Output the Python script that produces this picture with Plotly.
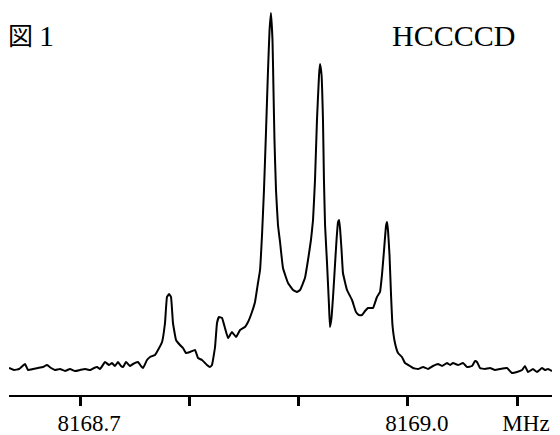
import plotly.graph_objects as go

# Frequency offset from 8168.7 MHz (kHz) and intensity (arbitrary units)
freq_offset_khz = [
    -65.0, -60.4, -55.8, -50.3, -47.6, -43.0, -38.4, -33.9, -30.2, -26.5,
    -22.9, -18.3, -13.7, -9.2, -4.6, 0.0, 4.6, 9.2, 12.8, 15.6,
    18.3, 22.9, 26.5, 29.3, 32.0, 34.8, 37.5, 39.4, 42.1, 45.8,
    48.5, 53.1, 55.8, 57.7, 61.3, 64.1, 68.6, 71.4, 75.1, 77.8,
    79.6, 81.5, 83.3, 85.1, 87.9, 91.5, 94.3, 97.0, 100.7, 105.3,
    108.0, 111.7, 116.2, 119.0, 120.8, 123.6, 125.4, 127.2, 130.0, 132.7,
    135.5, 139.1, 142.8, 146.5, 151.0, 153.8, 157.4, 160.2, 162.9, 164.8,
    166.6, 168.4, 170.3, 172.1, 173.5, 174.8, 176.2, 177.1, 178.0, 179.4,
    181.2, 183.1, 185.8, 190.4, 195.0, 198.6, 201.4, 205.9, 208.7, 211.4,
    213.3, 215.1, 216.9, 218.8, 219.7, 221.1, 222.4, 223.3, 224.3, 226.1,
    227.9, 228.8, 230.2, 231.6, 233.4, 234.8, 236.2, 237.1, 238.0, 239.4,
    240.7, 244.4, 249.0, 252.6, 255.4, 258.1, 260.9, 263.6, 268.2, 271.8,
    274.6, 276.4, 278.3, 280.1, 281.0, 281.9, 283.3, 284.7, 286.0, 288.3,
    291.1, 294.7, 297.5, 302.1, 304.8, 309.4, 314.0, 318.5, 323.1, 327.7,
    331.4, 335.9, 338.7, 341.4, 346.0, 350.6, 354.2, 358.8, 361.6, 363.4,
    366.1, 370.7, 375.3, 379.9, 384.4, 390.8, 395.4, 400.0, 404.6, 407.3,
    410.1, 414.6, 418.3, 422.9, 425.6, 428.4, 432.0,
]
intensity = [
    2, 0, 1, 6, 0, 1, 2, 3, 5, 2,
    0, 1, -1, 1, -1, 0, 1, 0, 2, 3,
    1, 8, 5, 7, 4, 8, 4, 3, 8, 4,
    6, 8, 4, 2, 10, 13, 15, 20, 28, 47,
    73, 76, 73, 47, 30, 25, 22, 17, 18, 20,
    12, 10, 5, 3, 5, 23, 47, 53, 52, 42,
    32, 38, 33, 40, 43, 48, 58, 68, 87, 100,
    135, 180, 240, 300, 340, 357, 330, 280, 230, 180,
    145, 128, 102, 87, 80, 78, 80, 92, 110, 130,
    150, 190, 250, 295, 306, 295, 250, 190, 145, 107,
    65, 43, 52, 73, 105, 130, 148, 150, 142, 120,
    97, 80, 70, 58, 55, 55, 59, 62, 62, 73,
    78, 95, 120, 144, 148, 140, 115, 75, 45, 27,
    17, 13, 7, 4, 2, 1, 3, 1, 4, 6,
    4, 7, 5, 7, 5, 7, 3, 4, 9, 8,
    2, 1, 2, 0, 1, 2, -3, -2, 0, 4,
    -2, 1, -2, 2, 0, 1, -1,
]

base_mhz = 8168.7
freq_mhz = [base_mhz + v / 1000.0 for v in freq_offset_khz]

tick_values = [8168.7, 8168.8, 8168.9, 8169.0, 8169.1]
tick_labels = ["8168.7", "", "", "8169.0", "MHz"]

fig = go.Figure()
fig.add_trace(go.Scatter(
    x=freq_mhz, y=intensity, mode="lines",
    line=dict(color="black", width=2, shape="spline", smoothing=0.3),
    hoverinfo="skip", showlegend=False,
))

# The page body has an 8px margin, so the figure is sized to fit the window.
fig.update_layout(
    width=552, height=427,
    margin=dict(l=1, r=4, t=0, b=40, autoexpand=False),
    paper_bgcolor="white", plot_bgcolor="white",
    xaxis=dict(
        range=[8168.635, 8169.1357],
        automargin=False,
        tickmode="array", tickvals=tick_values, ticktext=tick_labels,
        ticks="outside", ticklen=9, tickwidth=2.5, tickcolor="black",
        showline=True, linewidth=2, linecolor="black",
        showgrid=False, zeroline=False,
        ticklabelshift=9, ticklabelstandoff=-3,
        tickfont=dict(family="Liberation Serif", size=23, color="black"),
    ),
    yaxis=dict(range=[-25, 362], visible=False, showgrid=False, zeroline=False,
               automargin=False),
    annotations=[
        dict(text="図", xref="paper", yref="paper", x=-0.006, y=0.9341,
             xanchor="left", yanchor="middle", showarrow=False,
             font=dict(family="Noto Sans CJK JP", size=25, color="black")),
        dict(text="1", xref="paper", yref="paper", x=0.051, y=0.9302,
             xanchor="left", yanchor="middle", showarrow=False,
             font=dict(family="Liberation Serif", size=30, color="black")),
        dict(text="HCCCCD", xref="paper", yref="paper", x=0.6965, y=0.9302,
             xanchor="left", yanchor="middle", showarrow=False,
             font=dict(family="Liberation Serif", size=30, color="black")),
    ],
)

fig.write_html("out.html")
